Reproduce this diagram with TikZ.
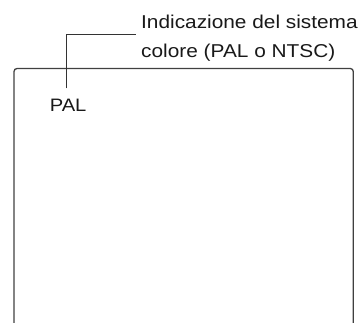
\documentclass[tikz,border=0pt]{standalone}
\usepackage{fontspec}
\setmainfont{Liberation Sans}[FakeStretch=1.12]
\begin{document}
\begin{tikzpicture}[x=1pt,y=-1pt,
  leader/.style={draw=black!80,line width=0.9pt},
  frame/.style={draw=black!75,line width=1.3pt,rounded corners=3pt},
  lbltext/.style={inner sep=0pt,anchor=base west,font=\fontsize{18.6}{29.5}\selectfont,align=left,text=black!90},
  paltext/.style={inner sep=0pt,anchor=base west,font=\fontsize{18}{20}\selectfont,text=black!90}]
\useasboundingbox (0,0) rectangle (362,322);
\draw[frame] (14,330) -- (14,68.5) -- (353.3,68.5) -- (353.3,330);
\node[lbltext] (lbl) at (141,57.5) {Indicazione del sistema\\colore (PAL o NTSC)};
\node[paltext] (pal) at (49.6,111) {PAL};
\coordinate (tip) at (66.7,88.3);
\coordinate (bend) at (66.7,34);
\coordinate (lend) at (136,34);
\draw[leader] (tip) -- (bend) -- (lend);
\end{tikzpicture}
\end{document}
